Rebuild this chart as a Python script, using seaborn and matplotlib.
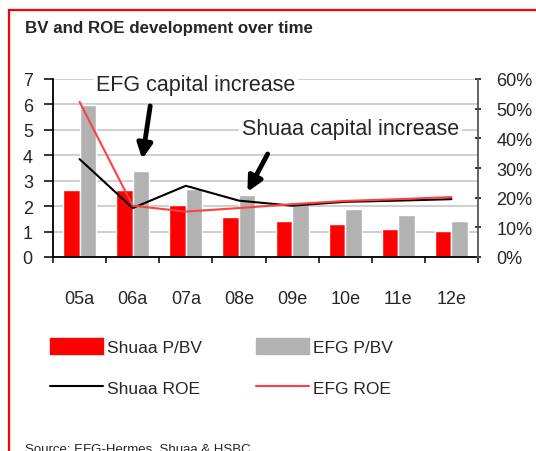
import numpy as np
import pandas as pd
import matplotlib
matplotlib.use('Agg')
import matplotlib.pyplot as plt
import seaborn as sns
from matplotlib.patches import Patch
from matplotlib.lines import Line2D
from matplotlib.ticker import PercentFormatter

# Data
years = ['05a', '06a', '07a', '08e', '09e', '10e', '11e', '12e']
shuaa_pbv = [2.65, 2.65, 2.05, 1.57, 1.42, 1.30, 1.10, 1.02]
efg_pbv = [5.96, 3.39, 2.68, 2.44, 2.12, 1.89, 1.65, 1.42]
shuaa_roe = [0.33, 0.165, 0.24, 0.19, 0.173, 0.186, 0.19, 0.195]
efg_roe = [0.523, 0.173, 0.153, 0.165, 0.178, 0.189, 0.195, 0.202]

RED = '#ff0000'
GREY = '#b2b2b2'
RED_LINE = '#ff4040'

sns.set_style('white')
plt.rcParams['font.family'] = ['Liberation Sans', 'DejaVu Sans']

bars = pd.DataFrame({
    'year': years * 2,
    'pbv': shuaa_pbv + efg_pbv,
    'series': ['Shuaa P/BV'] * len(years) + ['EFG P/BV'] * len(years),
})

fig = plt.figure(figsize=(5.36, 4.52), dpi=100)
ax = fig.add_axes([53 / 536, 1 - 258 / 452, 425 / 536, 178 / 452])

sns.barplot(data=bars, x='year', y='pbv', hue='series', palette=[RED, GREY],
            width=0.62, saturation=1, ax=ax, legend=False, zorder=2)
ax.set_xlim(-0.5, len(years) - 0.5)
ax.set_ylim(0, 7)
ax.set_yticks(range(0, 8))
ax.set_xlabel('')
ax.set_ylabel('')
ax.set_axisbelow(True)
ax.yaxis.grid(True, color='#cccccc', lw=1.3)
ax.xaxis.grid(False)

# tick marks between categories, labels at centres (lengths in points)
ax.set_xticks(np.arange(len(years)))
ax.set_xticklabels(years)
ax.set_xticks(np.arange(-0.5, len(years), 1), minor=True)
ax.tick_params(axis='x', which='major', length=0, pad=24, labelsize=13)
ax.tick_params(axis='x', which='minor', length=4.5, width=1.3, direction='out', bottom=True)
ax.tick_params(axis='y', length=6.5, width=1.3, direction='out', left=True, pad=8, labelsize=13)
for s in ['top', 'right']:
    ax.spines[s].set_visible(False)
for s in ['left', 'bottom']:
    ax.spines[s].set_color('black')
    ax.spines[s].set_linewidth(1.3)

ax2 = ax.twinx()
x = np.arange(len(years))
sns.lineplot(x=x, y=shuaa_roe, ax=ax2, color='black', lw=1.5)
sns.lineplot(x=x, y=efg_roe, ax=ax2, color=RED_LINE, lw=1.5)
ax2.set_ylim(0, 0.6)
ax2.set_yticks(np.arange(0, 0.61, 0.1))
ax2.yaxis.set_major_formatter(PercentFormatter(1.0, decimals=0))
ax2.tick_params(axis='y', length=4.5, width=1.3, direction='inout', right=True, pad=11, labelsize=13)
ax2.grid(False)
for s in ['top', 'left', 'bottom']:
    ax2.spines[s].set_visible(False)
ax2.spines['right'].set_color('#555555')
ax2.spines['right'].set_linewidth(1.3)
ax2.set_xlim(-0.5, len(years) - 0.5)

# annotations
arrow = dict(arrowstyle='-|>', lw=3.5, color='black', mutation_scale=22, shrinkA=0, shrinkB=0)
box = dict(facecolor='white', edgecolor='none', pad=2)
ax.text(2.18, 6.8, 'EFG capital increase', fontsize=15.5, ha='center', va='center', bbox=box, zorder=5)
ax.annotate('', xy=(1.18, 3.85), xytext=(1.33, 5.94), arrowprops=arrow, zorder=5)
ax.text(5.1, 5.07, 'Shuaa capital increase', fontsize=15.5, ha='center', va='center', bbox=box, zorder=5)
ax.annotate('', xy=(3.16, 2.56), xytext=(3.54, 4.05), arrowprops=arrow, zorder=5)

# legend
handles = [Patch(color=RED), Line2D([], [], color='black', lw=1.5),
           Patch(color=GREY), Line2D([], [], color=RED_LINE, lw=1.5)]
labels = ['Shuaa P/BV', 'Shuaa ROE', 'EFG P/BV', 'EFG ROE']
fig.legend(handles, labels, ncol=2, loc='upper left',
           bbox_to_anchor=(50 / 536, 1 - 339 / 452), frameon=False,
           fontsize=12.5, handlelength=3.05, handleheight=1.05,
           handletextpad=0.25, columnspacing=3.1, labelspacing=1.4,
           borderpad=0, borderaxespad=0)

# title, source and red frame
fig.text(25 / 536, 1 - 28 / 452, 'BV and ROE development over time',
         fontsize=12.2, fontweight='bold', va='center', ha='left')
fig.text(25 / 536, -1 / 452, 'Source: EFG-Hermes, Shuaa & HSBC',
         fontsize=9.5, va='baseline', ha='left')
fig.add_artist(Line2D([9 / 536, 1], [1 - 11 / 452, 1 - 11 / 452], color=RED, lw=1.6))
fig.add_artist(Line2D([9 / 536, 9 / 536], [0, 1 - 11 / 452], color=RED, lw=1.6))

fig.savefig('out.png', dpi=100)
